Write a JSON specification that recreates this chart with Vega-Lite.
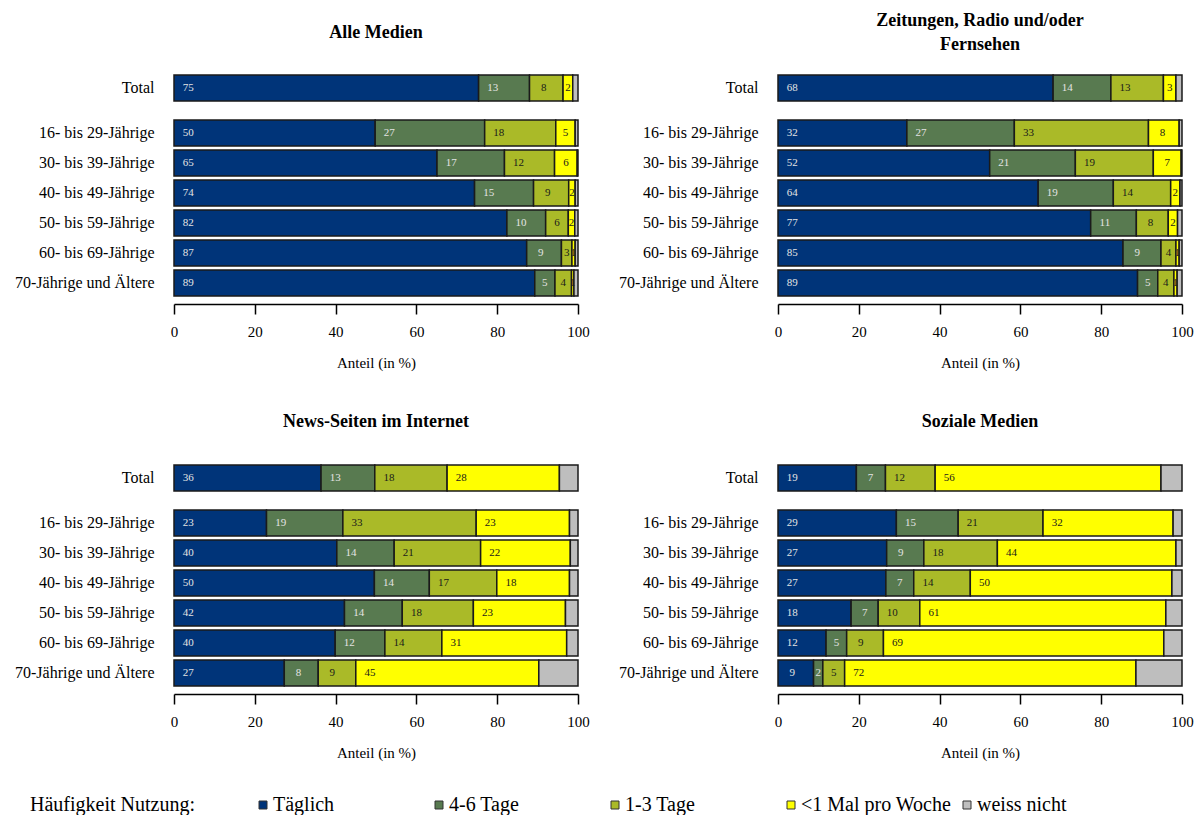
{
  "$schema": "https://vega.github.io/schema/vega-lite/v6.json",
  "padding": {"left": 14, "top": 12, "right": 5, "bottom": 0},
  "background": "white",
  "datasets": {
    "rows": [
      {"medium": "Alle Medien", "gruppe": "Total", "taeglich": 75.4, "t46": 12.6, "t13": 8.3, "lt1": 2.4, "wn": 1.3},
      {"medium": "Alle Medien", "gruppe": "16- bis 29-Jährige", "taeglich": 49.8, "t46": 27.1, "t13": 17.6, "lt1": 4.8, "wn": 0.7},
      {"medium": "Alle Medien", "gruppe": "30- bis 39-Jährige", "taeglich": 65.1, "t46": 16.7, "t13": 12.4, "lt1": 5.6, "wn": 0.2},
      {"medium": "Alle Medien", "gruppe": "40- bis 49-Jährige", "taeglich": 74.4, "t46": 14.6, "t13": 8.7, "lt1": 1.6, "wn": 0.7},
      {"medium": "Alle Medien", "gruppe": "50- bis 59-Jährige", "taeglich": 82.4, "t46": 9.6, "t13": 5.6, "lt1": 1.6, "wn": 0.8},
      {"medium": "Alle Medien", "gruppe": "60- bis 69-Jährige", "taeglich": 87.3, "t46": 8.6, "t13": 2.6, "lt1": 0.8, "wn": 0.7},
      {"medium": "Alle Medien", "gruppe": "70-Jährige und Ältere", "taeglich": 89.3, "t46": 5.0, "t13": 4.1, "lt1": 0.6, "wn": 1.0},
      {"medium": "Zeitungen", "gruppe": "Total", "taeglich": 68.1, "t46": 14.3, "t13": 13.0, "lt1": 3.1, "wn": 1.5},
      {"medium": "Zeitungen", "gruppe": "16- bis 29-Jährige", "taeglich": 31.9, "t46": 26.6, "t13": 33.2, "lt1": 7.6, "wn": 0.7},
      {"medium": "Zeitungen", "gruppe": "30- bis 39-Jährige", "taeglich": 52.4, "t46": 21.2, "t13": 19.3, "lt1": 6.9, "wn": 0.2},
      {"medium": "Zeitungen", "gruppe": "40- bis 49-Jährige", "taeglich": 64.4, "t46": 18.6, "t13": 14.2, "lt1": 2.3, "wn": 0.5},
      {"medium": "Zeitungen", "gruppe": "50- bis 59-Jährige", "taeglich": 77.4, "t46": 11.3, "t13": 7.9, "lt1": 2.3, "wn": 1.1},
      {"medium": "Zeitungen", "gruppe": "60- bis 69-Jährige", "taeglich": 85.4, "t46": 9.4, "t13": 3.7, "lt1": 0.8, "wn": 0.7},
      {"medium": "Zeitungen", "gruppe": "70-Jährige und Ältere", "taeglich": 89.0, "t46": 5.0, "t13": 4.0, "lt1": 0.8, "wn": 1.2},
      {"medium": "News", "gruppe": "Total", "taeglich": 36.4, "t46": 13.3, "t13": 17.9, "lt1": 27.8, "wn": 4.6},
      {"medium": "News", "gruppe": "16- bis 29-Jährige", "taeglich": 22.9, "t46": 18.9, "t13": 33.0, "lt1": 23.1, "wn": 2.1},
      {"medium": "News", "gruppe": "30- bis 39-Jährige", "taeglich": 40.3, "t46": 14.2, "t13": 21.4, "lt1": 22.2, "wn": 1.9},
      {"medium": "News", "gruppe": "40- bis 49-Jährige", "taeglich": 49.6, "t46": 13.6, "t13": 16.7, "lt1": 18.0, "wn": 2.1},
      {"medium": "News", "gruppe": "50- bis 59-Jährige", "taeglich": 42.2, "t46": 14.3, "t13": 17.6, "lt1": 22.8, "wn": 3.1},
      {"medium": "News", "gruppe": "60- bis 69-Jährige", "taeglich": 39.9, "t46": 12.3, "t13": 14.1, "lt1": 30.9, "wn": 2.8},
      {"medium": "News", "gruppe": "70-Jährige und Ältere", "taeglich": 27.3, "t46": 8.4, "t13": 9.3, "lt1": 45.3, "wn": 9.7},
      {"medium": "Sozial", "gruppe": "Total", "taeglich": 19.4, "t46": 7.2, "t13": 12.3, "lt1": 55.9, "wn": 5.2},
      {"medium": "Sozial", "gruppe": "16- bis 29-Jährige", "taeglich": 29.3, "t46": 15.3, "t13": 21.0, "lt1": 32.2, "wn": 2.2},
      {"medium": "Sozial", "gruppe": "30- bis 39-Jährige", "taeglich": 26.9, "t46": 9.2, "t13": 18.2, "lt1": 44.2, "wn": 1.5},
      {"medium": "Sozial", "gruppe": "40- bis 49-Jährige", "taeglich": 26.7, "t46": 6.9, "t13": 14.0, "lt1": 49.9, "wn": 2.5},
      {"medium": "Sozial", "gruppe": "50- bis 59-Jährige", "taeglich": 18.1, "t46": 6.7, "t13": 10.3, "lt1": 60.9, "wn": 4.0},
      {"medium": "Sozial", "gruppe": "60- bis 69-Jährige", "taeglich": 11.9, "t46": 5.1, "t13": 9.1, "lt1": 69.4, "wn": 4.5},
      {"medium": "Sozial", "gruppe": "70-Jährige und Ältere", "taeglich": 8.8, "t46": 2.3, "t13": 5.4, "lt1": 72.1, "wn": 11.4}
    ]
  },
  "data": {"name": "rows"},
  "transform": [
    {"fold": ["taeglich", "t46", "t13", "lt1", "wn"], "as": ["key", "wert"]},
    {"calculate": "indexof(['taeglich','t46','t13','lt1','wn'], datum.key)", "as": "ord"},
    {"calculate": "['Täglich','4-6 Tage','1-3 Tage','<1 Mal pro Woche','weiss nicht'][datum.ord]", "as": "kat"},
    {"stack": "wert", "groupby": ["medium", "gruppe"], "sort": [{"field": "ord", "order": "ascending"}], "as": ["x0", "x1"]},
    {"calculate": "datum.x0 + min((datum.x1 - datum.x0) / 2, 3.5)", "as": "lx"}
  ],
  "vconcat": [
    {
      "hconcat": [
        {
          "vconcat": [
            {
              "title": {"text": ["", "Alle Medien"], "lineHeight": 12, "offset": 31},
              "width": 404, "height": 30,
              "transform": [{"filter": "datum.medium === 'Alle Medien' && datum.gruppe === 'Total'"}],
              "encoding": {"y": {"field": "gruppe", "type": "nominal", "title": null, "scale": {"paddingInner": 0.1333, "paddingOuter": 0.0667}}},
              "layer": [
                {"mark": {"type": "bar", "stroke": "#1a1a1a", "strokeWidth": 1.5},
                 "encoding": {"x": {"field": "x0", "type": "quantitative", "scale": {"domain": [0, 100], "nice": false}, "axis": null}, "x2": {"field": "x1"},
                  "color": {"field": "kat", "type": "nominal", "sort": ["Täglich", "4-6 Tage", "1-3 Tage", "<1 Mal pro Woche", "weiss nicht"], "scale": {"domain": ["Täglich", "4-6 Tage", "1-3 Tage", "<1 Mal pro Woche", "weiss nicht"], "range": ["#003479", "#587A50", "#AABA28", "#FFFF00", "#BEBEBE"]}, "legend": {"title": "Häufigkeit Nutzung:"}}}},
                {"transform": [{"filter": "datum.key !== 'wn'"}],
                 "mark": {"type": "text", "fontSize": 11, "align": "center", "baseline": "middle"},
                 "encoding": {"x": {"field": "lx", "type": "quantitative", "axis": null}, "text": {"field": "wert", "type": "quantitative", "format": ".0f"},
                  "fill": {"condition": {"test": "datum.ord < 2", "value": "#e4e4e4"}, "value": "#1a1a1a"}}}
              ]
            },
            {
              "width": 404, "height": 180,
              "transform": [{"filter": "datum.medium === 'Alle Medien' && datum.gruppe !== 'Total'"}],
              "encoding": {"y": {"field": "gruppe", "type": "nominal", "title": null, "sort": ["16- bis 29-Jährige", "30- bis 39-Jährige", "40- bis 49-Jährige", "50- bis 59-Jährige", "60- bis 69-Jährige", "70-Jährige und Ältere"], "scale": {"paddingInner": 0.1333, "paddingOuter": 0.0667}}},
              "layer": [
                {"mark": {"type": "bar", "stroke": "#1a1a1a", "strokeWidth": 1.5},
                 "encoding": {"x": {"field": "x0", "type": "quantitative", "scale": {"domain": [0, 100], "nice": false}, "title": "Anteil (in %)", "axis": {"values": [0, 20, 40, 60, 80, 100]}}, "x2": {"field": "x1"},
                  "color": {"field": "kat", "type": "nominal"}}},
                {"transform": [{"filter": "datum.key !== 'wn'"}],
                 "mark": {"type": "text", "fontSize": 11, "align": "center", "baseline": "middle"},
                 "encoding": {"x": {"field": "lx", "type": "quantitative", "title": "Anteil (in %)", "axis": {"values": [0, 20, 40, 60, 80, 100]}}, "text": {"field": "wert", "type": "quantitative", "format": ".0f"},
                  "fill": {"condition": {"test": "datum.ord < 2", "value": "#e4e4e4"}, "value": "#1a1a1a"}}}
              ]
            }
          ],
          "spacing": 15
        },
        {
          "vconcat": [
            {
              "title": {"text": ["Zeitungen, Radio und/oder", "Fernsehen"], "lineHeight": 24, "offset": 19},
              "width": 404, "height": 30,
              "transform": [{"filter": "datum.medium === 'Zeitungen' && datum.gruppe === 'Total'"}],
              "encoding": {"y": {"field": "gruppe", "type": "nominal", "title": null, "scale": {"paddingInner": 0.1333, "paddingOuter": 0.0667}}},
              "layer": [
                {"mark": {"type": "bar", "stroke": "#1a1a1a", "strokeWidth": 1.5},
                 "encoding": {"x": {"field": "x0", "type": "quantitative", "scale": {"domain": [0, 100], "nice": false}, "axis": null}, "x2": {"field": "x1"},
                  "color": {"field": "kat", "type": "nominal"}}},
                {"transform": [{"filter": "datum.key !== 'wn'"}],
                 "mark": {"type": "text", "fontSize": 11, "align": "center", "baseline": "middle"},
                 "encoding": {"x": {"field": "lx", "type": "quantitative", "axis": null}, "text": {"field": "wert", "type": "quantitative", "format": ".0f"},
                  "fill": {"condition": {"test": "datum.ord < 2", "value": "#e4e4e4"}, "value": "#1a1a1a"}}}
              ]
            },
            {
              "width": 404, "height": 180,
              "transform": [{"filter": "datum.medium === 'Zeitungen' && datum.gruppe !== 'Total'"}],
              "encoding": {"y": {"field": "gruppe", "type": "nominal", "title": null, "sort": ["16- bis 29-Jährige", "30- bis 39-Jährige", "40- bis 49-Jährige", "50- bis 59-Jährige", "60- bis 69-Jährige", "70-Jährige und Ältere"], "scale": {"paddingInner": 0.1333, "paddingOuter": 0.0667}}},
              "layer": [
                {"mark": {"type": "bar", "stroke": "#1a1a1a", "strokeWidth": 1.5},
                 "encoding": {"x": {"field": "x0", "type": "quantitative", "scale": {"domain": [0, 100], "nice": false}, "title": "Anteil (in %)", "axis": {"values": [0, 20, 40, 60, 80, 100]}}, "x2": {"field": "x1"},
                  "color": {"field": "kat", "type": "nominal"}}},
                {"transform": [{"filter": "datum.key !== 'wn'"}],
                 "mark": {"type": "text", "fontSize": 11, "align": "center", "baseline": "middle"},
                 "encoding": {"x": {"field": "lx", "type": "quantitative", "title": "Anteil (in %)", "axis": {"values": [0, 20, 40, 60, 80, 100]}}, "text": {"field": "wert", "type": "quantitative", "format": ".0f"},
                  "fill": {"condition": {"test": "datum.ord < 2", "value": "#e4e4e4"}, "value": "#1a1a1a"}}}
              ]
            }
          ],
          "spacing": 15
        }
      ],
      "spacing": 28
    },
    {
      "hconcat": [
        {
          "vconcat": [
            {
              "title": {"text": "News-Seiten im Internet", "offset": 32},
              "width": 404, "height": 30,
              "transform": [{"filter": "datum.medium === 'News' && datum.gruppe === 'Total'"}],
              "encoding": {"y": {"field": "gruppe", "type": "nominal", "title": null, "scale": {"paddingInner": 0.1333, "paddingOuter": 0.0667}}},
              "layer": [
                {"mark": {"type": "bar", "stroke": "#1a1a1a", "strokeWidth": 1.5},
                 "encoding": {"x": {"field": "x0", "type": "quantitative", "scale": {"domain": [0, 100], "nice": false}, "axis": null}, "x2": {"field": "x1"},
                  "color": {"field": "kat", "type": "nominal"}}},
                {"transform": [{"filter": "datum.key !== 'wn'"}],
                 "mark": {"type": "text", "fontSize": 11, "align": "center", "baseline": "middle"},
                 "encoding": {"x": {"field": "lx", "type": "quantitative", "axis": null}, "text": {"field": "wert", "type": "quantitative", "format": ".0f"},
                  "fill": {"condition": {"test": "datum.ord < 2", "value": "#e4e4e4"}, "value": "#1a1a1a"}}}
              ]
            },
            {
              "width": 404, "height": 180,
              "transform": [{"filter": "datum.medium === 'News' && datum.gruppe !== 'Total'"}],
              "encoding": {"y": {"field": "gruppe", "type": "nominal", "title": null, "sort": ["16- bis 29-Jährige", "30- bis 39-Jährige", "40- bis 49-Jährige", "50- bis 59-Jährige", "60- bis 69-Jährige", "70-Jährige und Ältere"], "scale": {"paddingInner": 0.1333, "paddingOuter": 0.0667}}},
              "layer": [
                {"mark": {"type": "bar", "stroke": "#1a1a1a", "strokeWidth": 1.5},
                 "encoding": {"x": {"field": "x0", "type": "quantitative", "scale": {"domain": [0, 100], "nice": false}, "title": "Anteil (in %)", "axis": {"values": [0, 20, 40, 60, 80, 100]}}, "x2": {"field": "x1"},
                  "color": {"field": "kat", "type": "nominal"}}},
                {"transform": [{"filter": "datum.key !== 'wn'"}],
                 "mark": {"type": "text", "fontSize": 11, "align": "center", "baseline": "middle"},
                 "encoding": {"x": {"field": "lx", "type": "quantitative", "title": "Anteil (in %)", "axis": {"values": [0, 20, 40, 60, 80, 100]}}, "text": {"field": "wert", "type": "quantitative", "format": ".0f"},
                  "fill": {"condition": {"test": "datum.ord < 2", "value": "#e4e4e4"}, "value": "#1a1a1a"}}}
              ]
            }
          ],
          "spacing": 15
        },
        {
          "vconcat": [
            {
              "title": {"text": "Soziale Medien", "offset": 32},
              "width": 404, "height": 30,
              "transform": [{"filter": "datum.medium === 'Sozial' && datum.gruppe === 'Total'"}],
              "encoding": {"y": {"field": "gruppe", "type": "nominal", "title": null, "scale": {"paddingInner": 0.1333, "paddingOuter": 0.0667}}},
              "layer": [
                {"mark": {"type": "bar", "stroke": "#1a1a1a", "strokeWidth": 1.5},
                 "encoding": {"x": {"field": "x0", "type": "quantitative", "scale": {"domain": [0, 100], "nice": false}, "axis": null}, "x2": {"field": "x1"},
                  "color": {"field": "kat", "type": "nominal"}}},
                {"transform": [{"filter": "datum.key !== 'wn'"}],
                 "mark": {"type": "text", "fontSize": 11, "align": "center", "baseline": "middle"},
                 "encoding": {"x": {"field": "lx", "type": "quantitative", "axis": null}, "text": {"field": "wert", "type": "quantitative", "format": ".0f"},
                  "fill": {"condition": {"test": "datum.ord < 2", "value": "#e4e4e4"}, "value": "#1a1a1a"}}}
              ]
            },
            {
              "width": 404, "height": 180,
              "transform": [{"filter": "datum.medium === 'Sozial' && datum.gruppe !== 'Total'"}],
              "encoding": {"y": {"field": "gruppe", "type": "nominal", "title": null, "sort": ["16- bis 29-Jährige", "30- bis 39-Jährige", "40- bis 49-Jährige", "50- bis 59-Jährige", "60- bis 69-Jährige", "70-Jährige und Ältere"], "scale": {"paddingInner": 0.1333, "paddingOuter": 0.0667}}},
              "layer": [
                {"mark": {"type": "bar", "stroke": "#1a1a1a", "strokeWidth": 1.5},
                 "encoding": {"x": {"field": "x0", "type": "quantitative", "scale": {"domain": [0, 100], "nice": false}, "title": "Anteil (in %)", "axis": {"values": [0, 20, 40, 60, 80, 100]}}, "x2": {"field": "x1"},
                  "color": {"field": "kat", "type": "nominal"}}},
                {"transform": [{"filter": "datum.key !== 'wn'"}],
                 "mark": {"type": "text", "fontSize": 11, "align": "center", "baseline": "middle"},
                 "encoding": {"x": {"field": "lx", "type": "quantitative", "title": "Anteil (in %)", "axis": {"values": [0, 20, 40, 60, 80, 100]}}, "text": {"field": "wert", "type": "quantitative", "format": ".0f"},
                  "fill": {"condition": {"test": "datum.ord < 2", "value": "#e4e4e4"}, "value": "#1a1a1a"}}}
              ]
            }
          ],
          "spacing": 15
        }
      ],
      "spacing": 28
    }
  ],
  "spacing": 43,
  "config": {
    "font": "Liberation Serif",
    "view": {"stroke": null},
    "title": {"font": "Liberation Serif", "fontSize": 18, "fontWeight": "bold", "color": "black", "anchor": "middle", "baseline": "bottom"},
    "axisY": {"domain": false, "ticks": false, "labelPadding": 20, "labelFontSize": 16, "labelFont": "Liberation Serif", "labelColor": "black", "labelLimit": 300},
    "axisX": {"grid": false, "domainColor": "black", "domainWidth": 1.5, "tickColor": "black", "tickWidth": 1.5, "tickSize": 10, "offset": 6, "labelPadding": 10, "labelFontSize": 15, "labelFont": "Liberation Serif", "labelColor": "black", "labelFlush": false, "titleFont": "Liberation Serif", "titleFontSize": 15, "titleFontWeight": "normal", "titleColor": "black", "titlePadding": 16},
    "legend": {"orient": "none", "legendX": -144, "legendY": 722, "direction": "horizontal", "columns": 5, "gridAlign": "all", "padding": 0, "titleOrient": "left", "titleFont": "Liberation Serif", "titleFontSize": 20, "titleFontWeight": "normal", "titleColor": "black", "titlePadding": 58, "titleBaseline": "middle", "labelFont": "Liberation Serif", "labelFontSize": 20, "labelColor": "black", "labelOffset": 0, "labelLimit": 400, "columnPadding": 5, "symbolType": "square", "symbolSize": 64, "symbolStrokeColor": "#333333", "symbolStrokeWidth": 1}
  }
}
